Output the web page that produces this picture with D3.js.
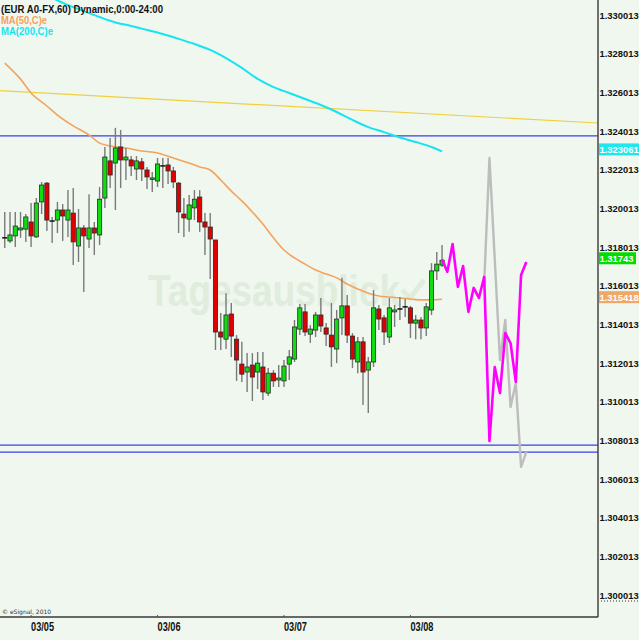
<!DOCTYPE html>
<html><head><meta charset="utf-8">
<script src="https://cdn.jsdelivr.net/npm/d3@7"></script>
<style>html,body{margin:0;padding:0;background:#eff7ef;overflow:hidden}</style>
</head><body><svg id="c" width="639" height="640"></svg>
<script>
// ---- data ----
const opens  = [1.31859,1.31843,1.31869,1.31900,1.31904,1.31941,1.31864,1.32045,1.32142,1.31946,
1.31951,1.32003,1.31951,1.31987,1.31817,1.31910,1.31853,1.31910,1.31874,1.32065,
1.32257,1.32246,1.32329,1.32262,1.32262,1.32215,1.32252,1.32210,1.32163,1.32153,
1.32231,1.32236,1.32205,1.32142,1.31982,1.31956,1.32014,1.32070,1.31941,1.31915,
1.31848,1.31372,1.31335,1.31465,1.31335,1.31206,1.31165,1.31201,1.31165,1.31191,
1.31056,1.31159,1.31124,1.31119,1.31206,1.31232,1.31387,1.31476,1.31361,1.31382,
1.31460,1.31393,1.31356,1.31284,1.31445,1.31507,1.31351,1.31217,1.31321,1.31175,
1.31217,1.31491,1.31445,1.31346,1.31476,1.31491,1.31502,1.31497,1.31418,1.31434,
1.31393,1.31486,1.31688,1.31718];
const highs  = [1.31993,1.31993,1.31993,1.31993,1.31982,1.32039,1.32065,1.32148,1.32148,1.31967,
1.32045,1.32034,1.32106,1.32117,1.32008,1.31925,1.32085,1.31941,1.32122,1.32329,
1.32376,1.32428,1.32417,1.32324,1.32282,1.32282,1.32272,1.32226,1.32200,1.32272,
1.32272,1.32272,1.32226,1.32148,1.32065,1.32080,1.32106,1.32106,1.31987,1.31987,
1.31848,1.31470,1.31573,1.31522,1.31356,1.31321,1.31263,1.31263,1.31269,1.31269,
1.31186,1.31175,1.31201,1.31227,1.31279,1.31434,1.31517,1.31517,1.31408,1.31476,
1.31548,1.31418,1.31522,1.31486,1.31652,1.31563,1.31366,1.31346,1.31346,1.31243,
1.31589,1.31512,1.31460,1.31548,1.31512,1.31553,1.31543,1.31507,1.31460,1.31450,
1.31522,1.31728,1.31786,1.31822];
const lows   = [1.31807,1.31832,1.31812,1.31859,1.31838,1.31812,1.31859,1.31982,1.31895,1.31832,
1.31884,1.31843,1.31864,1.31718,1.31734,1.31579,1.31807,1.31770,1.31822,1.32014,
1.32117,1.32003,1.32117,1.32158,1.32179,1.32158,1.32153,1.32111,1.32096,1.32122,
1.32117,1.32137,1.32117,1.31884,1.31864,1.31890,1.31951,1.31890,1.31770,1.31646,
1.31279,1.31279,1.31284,1.31243,1.31119,1.31114,1.31062,1.31015,1.31077,1.31020,
1.31041,1.31088,1.31088,1.31088,1.31124,1.31217,1.31356,1.31351,1.31315,1.31346,
1.31372,1.31300,1.31191,1.31211,1.31356,1.31315,1.31186,1.31159,1.30994,1.30953,
1.31191,1.31382,1.31305,1.31315,1.31398,1.31434,1.31450,1.31341,1.31335,1.31335,
1.31351,1.31460,1.31641,1.31708];
const closes = [1.31859,1.31874,1.31920,1.31910,1.31967,1.31869,1.32039,1.32132,1.31951,1.31946,
1.32003,1.31972,1.32003,1.31838,1.31910,1.31869,1.31910,1.31884,1.32059,1.32277,
1.32184,1.32324,1.32262,1.32277,1.32231,1.32257,1.32215,1.32174,1.32169,1.32241,
1.32231,1.32205,1.32148,1.31993,1.31962,1.32029,1.32059,1.31941,1.31915,1.31853,
1.31372,1.31346,1.31460,1.31351,1.31227,1.31154,1.31191,1.31139,1.31211,1.31062,
1.31159,1.31119,1.31134,1.31196,1.31243,1.31398,1.31497,1.31372,1.31387,1.31460,
1.31403,1.31361,1.31295,1.31439,1.31507,1.31356,1.31232,1.31321,1.31165,1.31217,
1.31497,1.31439,1.31372,1.31497,1.31486,1.31491,1.31502,1.31418,1.31434,1.31393,
1.31502,1.31688,1.31723,1.31743];

const ma50Idx = [0,3,5,8,10,13,16,18,20,23,26,29,32,35,37,39,41,43,45,47,49,51,53,55,57,59,61,63,65,67,69,71,73,75,77,79,81,83];
const ma50Val = [1.32763,1.32680,1.32608,1.32541,1.32494,1.32438,1.32391,1.32349,1.32334,1.32324,1.32308,1.32298,1.32272,1.32246,1.32226,1.32210,1.32158,1.32101,1.32050,1.31993,1.31930,1.31859,1.31796,1.31755,1.31723,1.31693,1.31672,1.31652,1.31620,1.31594,1.31573,1.31558,1.31553,1.31548,1.31543,1.31538,1.31538,1.315418];

const ma200Idx = [9,12,15,18,21,24,27,30,33,36,39,42,45,48,51,54,57,60,63,66,69,72,75,78,81,83];
const ma200Val = [1.33100,1.33063,1.33032,1.33001,1.32973,1.32955,1.32934,1.32913,1.32888,1.32862,1.32831,1.32789,1.32738,1.32681,1.32639,1.32608,1.32577,1.32546,1.32510,1.32469,1.32432,1.32406,1.32378,1.32355,1.32329,1.323061];

const magentaIdx = [83,84,85,86,87,88,89,90,91,92,93,94,95,96,97,98,99];
const magentaVal = [1.31748,1.31683,1.31827,1.31605,1.31713,1.31476,1.31600,1.31548,1.31657,1.30808,1.31191,1.31056,1.31366,1.31315,1.31114,1.31667,1.31734];

const grayIdx = [91,92,94,95,96,97,98,99];
const grayVal = [1.31625,1.32272,1.31227,1.31434,1.30984,1.31108,1.30674,1.30752];

const blueLevels = [1.32386,1.30787,1.30751];
const yellowStart = 1.32620, yellowEnd = 1.32453;

const priceTicks = d3.range(16).map(k => 1.300013 + 0.002*k);
const dayLabels = ["03/05","03/06","03/07","03/08"];
const dayIdx = [5,29,53,77];

const lastLabels = [
  {v:1.323061, text:"1.323061", fill:"#22e6ee", w:40},
  {v:1.31743,  text:"1.31743",  fill:"#00dd00", w:37},
  {v:1.315418, text:"1.315418", fill:"#f0a868", w:40}
];

// ---- scales ----
const svg = d3.select("#c");
const W = 639, H = 640, plotR = 598, plotB = 617;
const x = d3.scaleLinear().domain([-0.9, 112.6]).range([0, plotR]);
const y = d3.scaleLinear().domain([1.300013, 1.330013]).range([597, 17]);

svg.append("rect").attr("width", W).attr("height", H).attr("fill", "#eff7ef");
svg.append("defs").append("clipPath").attr("id","pc")
  .append("rect").attr("x",0).attr("y",0).attr("width",plotR).attr("height",plotB);

const fam = "'Liberation Sans', Arial, sans-serif";

// watermark
svg.append("text").attr("x", 148).attr("y", 306)
  .attr("font-family", fam)
  .attr("font-weight", "bold").attr("font-size", 44)
  .attr("textLength", 252).attr("lengthAdjust","spacingAndGlyphs")
  .attr("fill", "#e0ecdc").text("Tagesausblick");
svg.append("path").attr("d","M402,290 l8,8 l14,-18")
  .attr("fill","none").attr("stroke","#e0ecdc").attr("stroke-width",5);

const plot = svg.append("g").attr("clip-path","url(#pc)");

// yellow trend line
plot.append("line").attr("x1", x(-0.9)).attr("x2", x(112.6))
  .attr("y1", y(yellowStart)).attr("y2", y(yellowEnd))
  .attr("stroke", "#f0d040").attr("stroke-width", 1.2);

// blue levels
plot.selectAll(".lvl").data(blueLevels).join("line")
  .attr("x1", 0).attr("x2", plotR)
  .attr("y1", d => y(d)).attr("y2", d => y(d))
  .attr("stroke", "#3c3cf0").attr("stroke-width", 1.2);

// MA200
plot.append("path").datum(ma200Idx.map((d,i)=>[d, ma200Val[i]]))
  .attr("d", d3.line().x(d=>x(d[0])).y(d=>y(d[1])).curve(d3.curveMonotoneX)).attr("fill","none")
  .attr("stroke","#18e4f0").attr("stroke-width",2);

// MA50
plot.append("path").datum(ma50Idx.map((d,i)=>[d, ma50Val[i]]))
  .attr("d", d3.line().x(d=>x(d[0])).y(d=>y(d[1])).curve(d3.curveMonotoneX)).attr("fill","none")
  .attr("stroke","#f4a35c").attr("stroke-width",1.6);

// candles
const candles = opens.map((o,i)=>({i, o, h:highs[i], l:lows[i], c:closes[i]}));
const cg = plot.append("g");
cg.selectAll(".wick").data(candles).join("line")
  .attr("x1", d=>x(d.i)).attr("x2", d=>x(d.i))
  .attr("y1", d=>y(d.h)).attr("y2", d=>y(d.l))
  .attr("stroke","#7a7a7a").attr("stroke-width",1.4);
cg.selectAll(".body").data(candles.filter(d=>d.o!==d.c)).join("rect")
  .attr("x", d=>x(d.i)-2.1).attr("width",4.2)
  .attr("y", d=>y(Math.max(d.o,d.c)))
  .attr("height", d=>Math.max(1.5, Math.abs(y(d.o)-y(d.c))))
  .attr("fill", d=> d.c>d.o ? "#10dc10" : "#e00000")
  .attr("stroke","#2a2a2a").attr("stroke-width",0.8);
cg.selectAll(".doji").data(candles.filter(d=>d.o===d.c)).join("line")
  .attr("x1", d=>x(d.i)-2.6).attr("x2", d=>x(d.i)+2.6)
  .attr("y1", d=>y(d.o)).attr("y2", d=>y(d.o))
  .attr("stroke","#111").attr("stroke-width",1.5);

// projections
plot.append("path").datum(grayIdx.map((d,i)=>[d, grayVal[i]]))
  .attr("d", d3.line().x(d=>x(d[0])).y(d=>y(d[1]))).attr("fill","none")
  .attr("stroke","#bdbdbd").attr("stroke-width",2.4).attr("stroke-linejoin","round");
plot.append("path").datum(magentaIdx.map((d,i)=>[d, magentaVal[i]]))
  .attr("d", d3.line().x(d=>x(d[0])).y(d=>y(d[1]))).attr("fill","none")
  .attr("stroke","#ff00ff").attr("stroke-width",2.6).attr("stroke-linejoin","round");

// axes frame
svg.append("line").attr("x1",plotR).attr("x2",plotR).attr("y1",0).attr("y2",plotB)
  .attr("stroke","#3a3a3a").attr("stroke-width",1.4);
svg.append("line").attr("x1",0).attr("x2",plotR).attr("y1",plotB).attr("y2",plotB)
  .attr("stroke","#3a3a3a").attr("stroke-width",1.4);
svg.append("line").attr("x1",601).attr("x2",639).attr("y1",601).attr("y2",601)
  .attr("stroke","#333").attr("stroke-width",1).attr("stroke-dasharray","1,2");

// right axis labels
svg.selectAll(".pt").data(priceTicks).join("text")
  .attr("x", 599.5).attr("y", d=>y(d)+1.5)
  .attr("font-family", fam).attr("font-weight","bold").attr("font-size",9.4)
  .attr("fill","#111").text(d=>d.toFixed(6));

// last value labels
const lg = svg.selectAll(".lv").data(lastLabels).join("g");
lg.append("rect").attr("x",599).attr("width",d=>d.w)
  .attr("y", d=>y(d.v)-8).attr("height",12).attr("fill", d=>d.fill);
lg.append("text").attr("x",599.5).attr("y", d=>y(d.v)+1.5)
  .attr("font-family", fam).attr("font-weight","bold").attr("font-size",9.4)
  .attr("fill","#ffffff").text(d=>d.text);

// bottom date labels + ticks
svg.selectAll(".dt").data(dayIdx).join("line")
  .attr("x1", d=>x(d)).attr("x2", d=>x(d)).attr("y1", plotB-2).attr("y2", plotB)
  .attr("stroke","#555").attr("stroke-width",1);
svg.selectAll(".dl").data(dayIdx).join("text")
  .attr("x", d=>x(d)).attr("y", 631)
  .attr("font-family", fam).attr("font-weight","bold").attr("font-size",12)
  .attr("textLength", 23).attr("lengthAdjust","spacingAndGlyphs")
  .attr("fill","#111").text((d,i)=>dayLabels[i]);

// header
svg.append("text").attr("x",1).attr("y",13)
  .attr("font-family", fam).attr("font-weight","bold").attr("font-size",11)
  .attr("textLength", 162).attr("lengthAdjust","spacingAndGlyphs")
  .attr("fill","#111").text("(EUR A0-FX,60) Dynamic,0:00-24:00");
svg.append("text").attr("x",1).attr("y",24)
  .attr("font-family", fam).attr("font-weight","bold").attr("font-size",11)
  .attr("textLength", 46).attr("lengthAdjust","spacingAndGlyphs")
  .attr("fill","#f4a35c").text("MA(50,C)e");
svg.append("text").attr("x",1).attr("y",35)
  .attr("font-family", fam).attr("font-weight","bold").attr("font-size",11)
  .attr("textLength", 52).attr("lengthAdjust","spacingAndGlyphs")
  .attr("fill","#18e4f0").text("MA(200,C)e");

svg.append("text").attr("x",2).attr("y",614)
  .attr("font-family","'DejaVu Sans', sans-serif").attr("font-size",6)
  .attr("fill","#333").text("© eSignal, 2010");
</script>
</body></html>
